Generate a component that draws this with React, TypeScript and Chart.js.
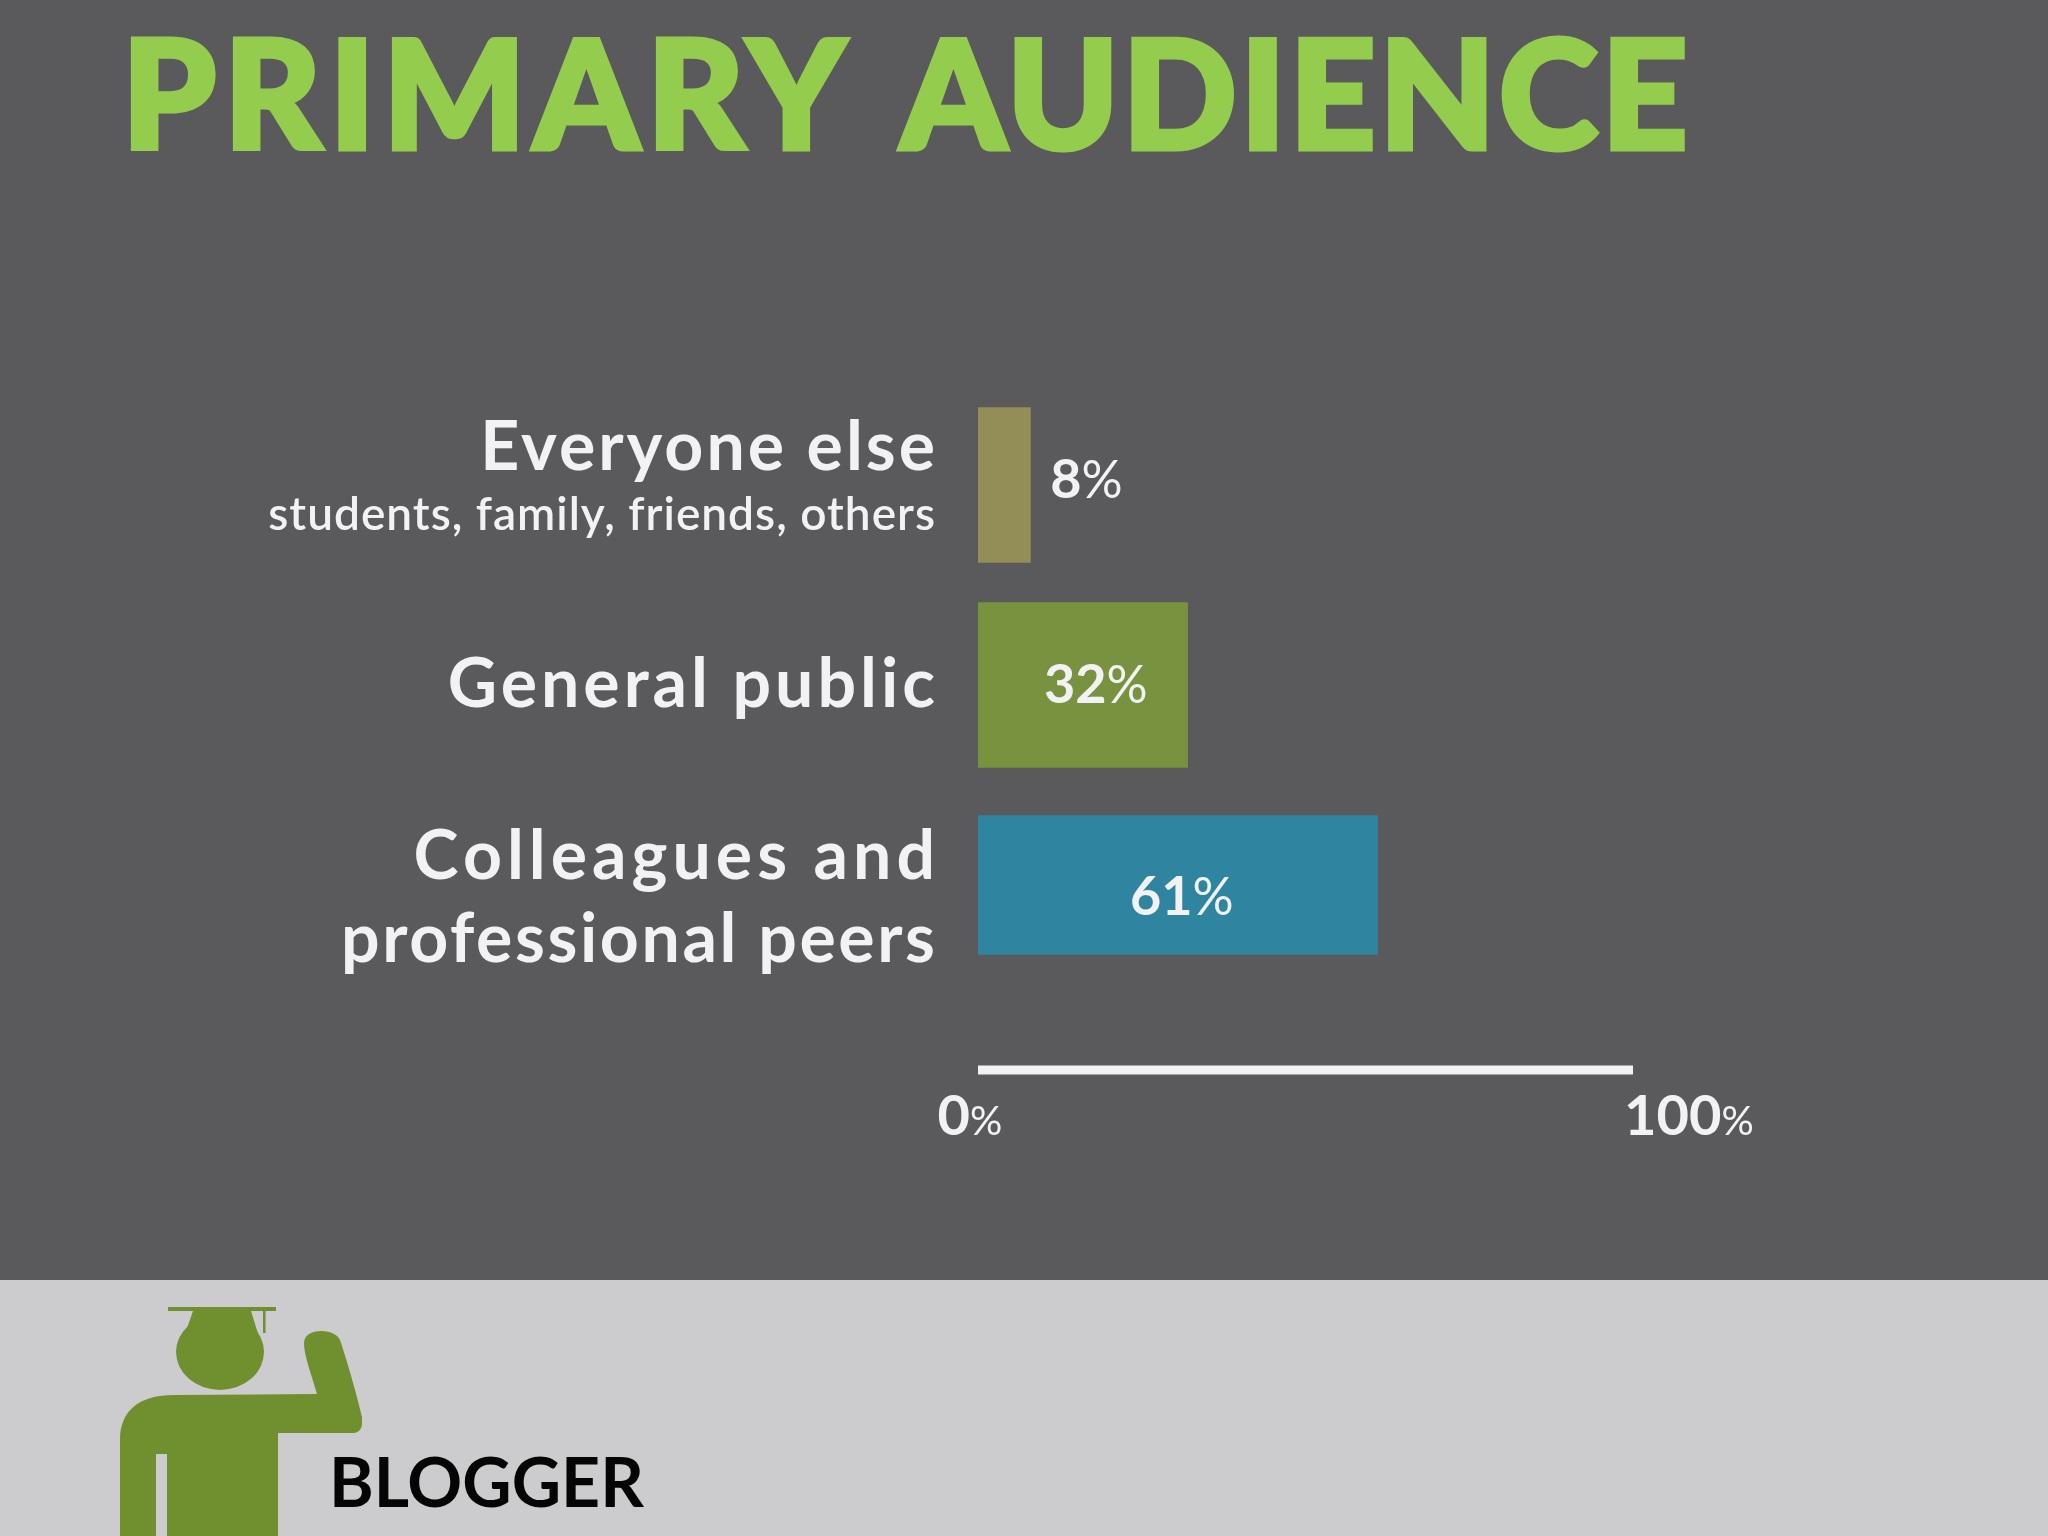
import React, { useEffect, useRef } from "react";
import { Chart, registerables } from "chart.js";

Chart.register(...registerables);

const titleWords = ["PRIMARY", "AUDIENCE"];
const personLabel = "BLOGGER";
const categories: string[][] = [
  ["Everyone else", "students, family, friends, others"],
  ["General public"],
  ["Colleagues and", "professional peers"],
];
const audienceShare = [8, 32, 61];
const barColors = ["#938D58", "#78923F", "#2F85A0"];
const barThicknesses = [155, 165, 139];
const axisTicks = [0, 100];

const FONT = "Lato, sans-serif";
const TEXT = "#F2F2F4";

function drawPercent(ctx: any, value: number, cx: number, cy: number, size: number, pctScale: number) {
  const num = String(value);
  const pctSize = size * pctScale;
  ctx.textAlign = "left";
  ctx.textBaseline = "alphabetic";
  ctx.font = `700 ${size}px ${FONT}`;
  const w1 = ctx.measureText(num).width;
  ctx.font = `400 ${pctSize}px ${FONT}`;
  const w2 = ctx.measureText("%").width;
  const x = cx - (w1 + w2) / 2;
  const base = cy + size * 0.36;
  ctx.fillStyle = TEXT;
  ctx.font = `700 ${size}px ${FONT}`;
  ctx.fillText(num, x, base);
  ctx.font = `400 ${pctSize}px ${FONT}`;
  ctx.fillText("%", x + w1, base);
}

const annotate = {
  id: "annotate",
  afterDatasetsDraw(chart: any) {
    const { ctx, scales } = chart;
    const { x, y } = scales;
    ctx.save();
    // category labels, right-aligned against the bars
    const lineOffsets = [[-15, 45], [22], [-6, 77]];
    const lineFonts = [[`700 68px ${FONT}`, `600 46px ${FONT}`], [`700 68px ${FONT}`], [`700 68px ${FONT}`, `700 68px ${FONT}`]];
    const lineSpacing = [[3, 1], [4], [5, 2.6]];
    ctx.fillStyle = TEXT;
    ctx.textAlign = "right";
    ctx.textBaseline = "alphabetic";
    categories.forEach((lines, i) => {
      const cy = y.getPixelForTick(i);
      lines.forEach((line, j) => {
        ctx.font = lineFonts[i][j];
        ctx.letterSpacing = `${lineSpacing[i][j]}px`;
        ctx.fillText(line, x.getPixelForValue(0) - 43 + lineSpacing[i][j], cy + lineOffsets[i][j]);
      });
    });
    ctx.letterSpacing = "0px";
    // value labels
    const dx = [56, 13, 4];
    const dy = [-6, -1, 11];
    audienceShare.forEach((v, i) => {
      const bar = chart.getDatasetMeta(i).data[i];
      const anchor = i === 0 ? bar.x : (bar.x + bar.base) / 2;
      drawPercent(ctx, v, anchor + dx[i], bar.y + dy[i], 54, 0.95);
    });
    // value axis, set below the plot
    const axisY = 1070;
    ctx.fillStyle = TEXT;
    ctx.fillRect(x.getPixelForValue(axisTicks[0]), axisY - 4.5, x.getPixelForValue(axisTicks[1]) - x.getPixelForValue(axisTicks[0]), 9);
    const tickDx = [-8, 56];
    axisTicks.forEach((t, i) => {
      drawPercent(ctx, t, x.getPixelForValue(t) + tickDx[i], 1115, 56, 0.72);
    });
    ctx.restore();
  },
};

export default function App() {
  const ref = useRef<HTMLCanvasElement>(null);
  useEffect(() => {
    const chart = new Chart(ref.current!, {
      type: "bar",
      data: {
        labels: categories.map((c) => c.join(" ")),
        datasets: audienceShare.map((v, i) => ({
          label: categories[i][0],
          data: categories.map((_, j) => (j === i ? v : null)),
          backgroundColor: barColors[i],
          barThickness: barThicknesses[i],
          borderWidth: 0,
        })),
      },
      options: {
        indexAxis: "y",
        responsive: false,
        animation: false,
        devicePixelRatio: 1,
        layout: { padding: { left: 978, right: 415, top: 385, bottom: 551 } },
        plugins: { legend: { display: false }, title: { display: false }, tooltip: { enabled: false } },
        scales: {
          x: { display: false, stacked: true, min: 0, max: 100, grid: { display: false } },
          y: { display: false, stacked: true, grid: { display: false } },
        },
      },
      plugins: [annotate],
    } as any);
    return () => chart.destroy();
  }, []);

  const abs: React.CSSProperties = { position: "absolute", whiteSpace: "nowrap" };
  return (
    <div style={{ position: "absolute", left: 0, top: 0, width: 2048, height: 1536, overflow: "hidden", background: "#5A595C" }}>
      <div style={{ ...abs, left: 0, top: 1280, width: 2048, height: 256, background: "#CCCBCD" }} />
      <svg style={{ ...abs, left: 0, top: 0 }} width={2048} height={1536}>
        <g fill="#70902F">
          <rect x={168} y={1307} width={108} height={4} />
          <rect x={263} y={1311} width={2.5} height={22} />
          <path d="M193 1311 L184 1337 L259 1337 L251 1311 Z" />
          <ellipse cx={220} cy={1352} rx={44} ry={38} />
          <path d="M120 1536 L120 1440 C120 1410 140 1395 174 1395 L317 1394 C310 1370 304 1355 304 1343 C304 1335 312 1331 321 1331 C331 1331 338 1335 340 1340 C350 1370 358 1400 362 1417 L362 1423 C362 1428 360 1432 354 1433 L278 1433 L278 1536 Z" />
        </g>
        <rect x={156} y={1454} width={11} height={82} fill="#CCCBCD" />
      </svg>
      <canvas ref={ref} width={2048} height={1536} style={{ ...abs, left: 0, top: 0 }} />
      <div style={{ ...abs, left: 122, top: 0, height: 182, lineHeight: "182px", fontFamily: FONT, fontWeight: 900, fontSize: 150, color: "#94CC4D", WebkitTextStroke: "5px #94CC4D" } as any}>
        <span style={{ letterSpacing: 8 }}>{titleWords[0]}</span>
        <span style={{ letterSpacing: 3.7, marginLeft: 47 }}>{titleWords[1]}</span>
      </div>
      <div style={{ ...abs, left: 329, top: 1440, height: 82, lineHeight: "82px", fontFamily: FONT, fontWeight: 700, fontSize: 68, color: "#050505" }}>{personLabel}</div>
    </div>
  );
}
